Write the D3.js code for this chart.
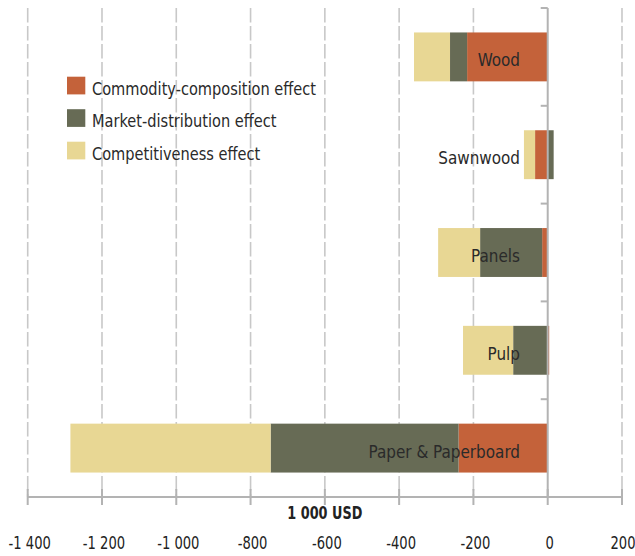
<!DOCTYPE html>
<html>
<head>
<meta charset="utf-8">
<script src="https://cdn.jsdelivr.net/npm/d3@7"></script>
<style>
  html, body { margin: 0; padding: 0; background: #fff; }
  svg { display: block; }
  text { font-family: "Liberation Sans Narrow", "DejaVu Sans Condensed", "Roboto", sans-serif; }
</style>
</head>
<body>
<svg id="chart" width="635" height="556"></svg>
<script>
const categories = ["Wood", "Sawnwood", "Panels", "Pulp", "Paper & Paperboard"];
const seriesNames = ["Commodity-composition effect", "Market-distribution effect", "Competitiveness effect"];
const commodity = [-217, -34, -15, 4, -240];
const market = [-46, 16, -167, -93, -506];
const competitiveness = [-97, -30, -113, -135, -539];
const tickValues = [-1400, -1200, -1000, -800, -600, -400, -200, 0, 200];
const axisTitle = "1 000 USD";
const colors = ["#c4623a", "#676b55", "#e8d794"];

const rows = categories.map((c, i) => ({
  cat: c,
  [seriesNames[0]]: commodity[i],
  [seriesNames[1]]: market[i],
  [seriesNames[2]]: competitiveness[i]
}));

const svg = d3.select("#chart");
const x = d3.scaleLinear().domain([-1400, 200]).range([27.7, 622]);
const y = d3.scaleBand().domain(categories).range([8, 497]).paddingInner(0.5).paddingOuter(0.25);
const color = d3.scaleOrdinal().domain(seriesNames).range(colors);

const locale = d3.formatLocale({ decimal: ".", thousands: " ", grouping: [3], currency: ["", ""], minus: "-" });
const fmt = locale.format(",d");

// gridlines
svg.append("g").selectAll("line")
  .data(tickValues.filter(v => v !== 0))
  .join("line")
  .attr("x1", d => x(d)).attr("x2", d => x(d))
  .attr("y1", 8).attr("y2", 497)
  .attr("stroke", "#c8c8c8").attr("stroke-width", 1.6)
  .attr("stroke-dasharray", "14.5,3.5");

// stacked bars
const stack = d3.stack().keys(seriesNames).offset(d3.stackOffsetDiverging);
const stacked = stack(rows);
svg.append("g").selectAll("g")
  .data(stacked)
  .join("g")
  .attr("fill", d => color(d.key))
  .selectAll("rect")
  .data(d => d)
  .join("rect")
  .attr("x", d => x(Math.min(d[0], d[1])))
  .attr("width", d => Math.abs(x(d[1]) - x(d[0])))
  .attr("y", d => y(d.data.cat))
  .attr("height", y.bandwidth());

// bottom axis
const gx = svg.append("g").attr("transform", "translate(0,497)");
gx.append("line").attr("x1", x(-1400)).attr("x2", x(200)).attr("stroke", "#b3b3b3").attr("stroke-width", 2);
gx.selectAll("line.tk").data(tickValues).join("line").attr("class", "tk")
  .attr("x1", d => x(d)).attr("x2", d => x(d)).attr("y1", -8).attr("y2", 8)
  .attr("stroke", "#b3b3b3").attr("stroke-width", 2);
gx.selectAll("text.tl").data(tickValues).join("text").attr("class", "tl")
  .attr("transform", d => `translate(${x(d) + (d === 200 ? 1 : 2)},52) scale(0.81,1)`)
  .attr("text-anchor", "middle").attr("font-size", 18).attr("fill", "#222")
  .text(d => fmt(d));
gx.append("text")
  .attr("transform", `translate(${x(-600)},22) scale(0.84,1)`)
  .attr("text-anchor", "middle").attr("font-size", 17).attr("font-weight", "bold").attr("fill", "#222")
  .text(axisTitle);

// zero line with band ticks
const step = y.step();
const gap = step - y.bandwidth();
const bounds = categories.map(c => y(c) - gap / 2);
svg.append("line").attr("x1", x(0)).attr("x2", x(0)).attr("y1", 8).attr("y2", 497)
  .attr("stroke", "#b3b3b3").attr("stroke-width", 2);
svg.append("g").selectAll("line").data(bounds).join("line")
  .attr("x1", x(0) - 7).attr("x2", x(0)).attr("y1", d => d).attr("y2", d => d)
  .attr("stroke", "#b3b3b3").attr("stroke-width", 2);

// category labels
svg.append("g").selectAll("text").data(categories).join("text")
  .attr("transform", d => `translate(520,${y(d) + y.bandwidth() / 2 + 9.5}) scale(0.94,1)`)
  .attr("text-anchor", "end")
  .attr("font-size", 18).attr("fill", "#2a2a2a")
  .text(d => d);

// legend
const lg = svg.append("g").attr("transform", "translate(67,76.7)");
const li = lg.selectAll("g").data(seriesNames).join("g")
  .attr("transform", (d, i) => `translate(0,${i * 32.5})`);
li.append("rect").attr("width", 18.3).attr("height", 17.7).attr("fill", d => color(d));
li.append("text").attr("transform", "translate(25,18) scale(0.9,1)")
  .attr("font-size", 18).attr("fill", "#2a2a2a").text(d => d);
</script>
</body>
</html>
